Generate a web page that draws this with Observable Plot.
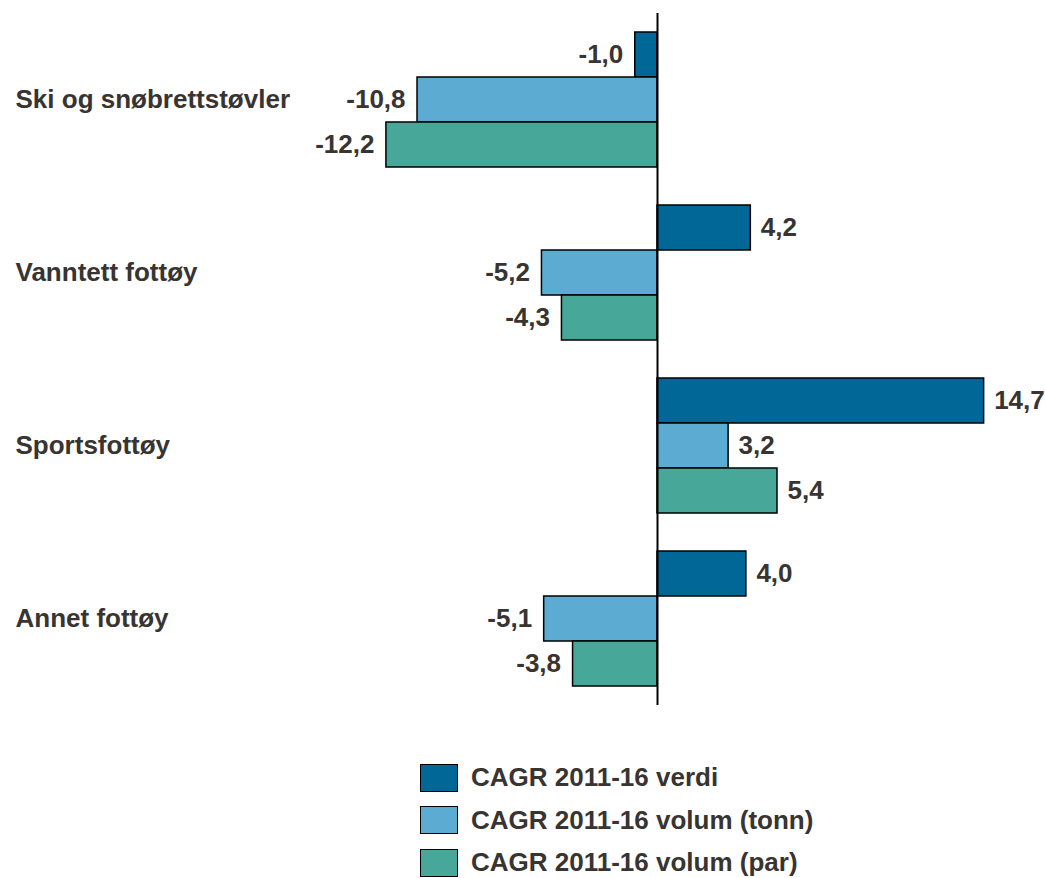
<!DOCTYPE html>
<html>
<head>
<meta charset="utf-8">
<script src="https://cdn.jsdelivr.net/npm/d3@7"></script>
<script src="https://cdn.jsdelivr.net/npm/@observablehq/plot@0.6"></script>
<style>
  html, body { margin: 0; padding: 0; background: #fff; }
  body { width: 1045px; height: 878px; position: relative; overflow: hidden; font-family: "Liberation Sans", Arial, sans-serif; }
  #legend { position: absolute; left: 420px; top: 763px; }
  .item { display: flex; align-items: center; height: 29px; margin-bottom: 13.5px; }
  .sw { width: 36px; height: 26px; border: 1.5px solid #000; margin-right: 13px; }
  .lab { font-weight: bold; font-size: 26px; color: #383431; line-height: 29px; }
</style>
</head>
<body>
<div id="chart"></div>
<div id="legend"></div>
<script>
const categories = ["Ski og snøbrettstøvler", "Vanntett fottøy", "Sportsfottøy", "Annet fottøy"];
const seriesNames = ["CAGR 2011-16 verdi", "CAGR 2011-16 volum (tonn)", "CAGR 2011-16 volum (par)"];
const verdi = [-1.0, 4.2, 14.7, 4.0];
const tonn = [-10.8, -5.2, 3.2, -5.1];
const par = [-12.2, -4.3, 5.4, -3.8];
const colors = ["#006796", "#5BABD3", "#47A89A"];

const seriesValues = [verdi, tonn, par];
const data = categories.flatMap((c, i) =>
  seriesValues.map((arr, j) => ({category: c, series: seriesNames[j], value: arr[i]}))
);
const fmt = d => d.value.toFixed(1).replace(".", ",");
const textColor = "#383431";
const fontSize = 26;
const pxPerUnit = 22.22;
const zeroX = 657;
const W = 1045;

const chart = Plot.plot({
  width: W,
  height: 720,
  marginTop: 11,
  marginBottom: 14,
  marginLeft: 0,
  marginRight: 0,
  style: {fontFamily: "'Liberation Sans', Arial, sans-serif", background: "transparent"},
  x: {domain: [-zeroX / pxPerUnit, (W - zeroX) / pxPerUnit], axis: null},
  y: {domain: seriesNames, axis: null, paddingInner: 0, paddingOuter: 0.39},
  fy: {domain: categories, padding: 0, axis: null},
  color: {domain: seriesNames, range: colors},
  marks: [
    Plot.barX(data, {fy: "category", y: "series", x: "value", fill: "series", stroke: "#000", strokeWidth: 1.5}),
    Plot.ruleX([0], {stroke: "#000", strokeWidth: 2}),
    Plot.text(data.filter(d => d.value >= 0), {
      fy: "category", y: "series", x: "value", text: fmt,
      textAnchor: "start", dx: 10, fill: textColor, fontSize, fontWeight: "bold"
    }),
    Plot.text(data.filter(d => d.value < 0), {
      fy: "category", y: "series", x: "value", text: fmt,
      textAnchor: "end", dx: -12, fill: textColor, fontSize, fontWeight: "bold"
    }),
    Plot.text(categories, {
      fy: d => d, text: d => d, frameAnchor: "left", dx: 15,
      textAnchor: "start", fill: textColor, fontSize, fontWeight: "bold"
    })
  ]
});
document.getElementById("chart").appendChild(chart);

const legend = document.getElementById("legend");
seriesNames.forEach((name, i) => {
  const item = document.createElement("div");
  item.className = "item";
  const sw = document.createElement("div");
  sw.className = "sw";
  sw.style.background = colors[i];
  const lab = document.createElement("span");
  lab.className = "lab";
  lab.textContent = name;
  item.appendChild(sw);
  item.appendChild(lab);
  legend.appendChild(item);
});
</script>
</body>
</html>
